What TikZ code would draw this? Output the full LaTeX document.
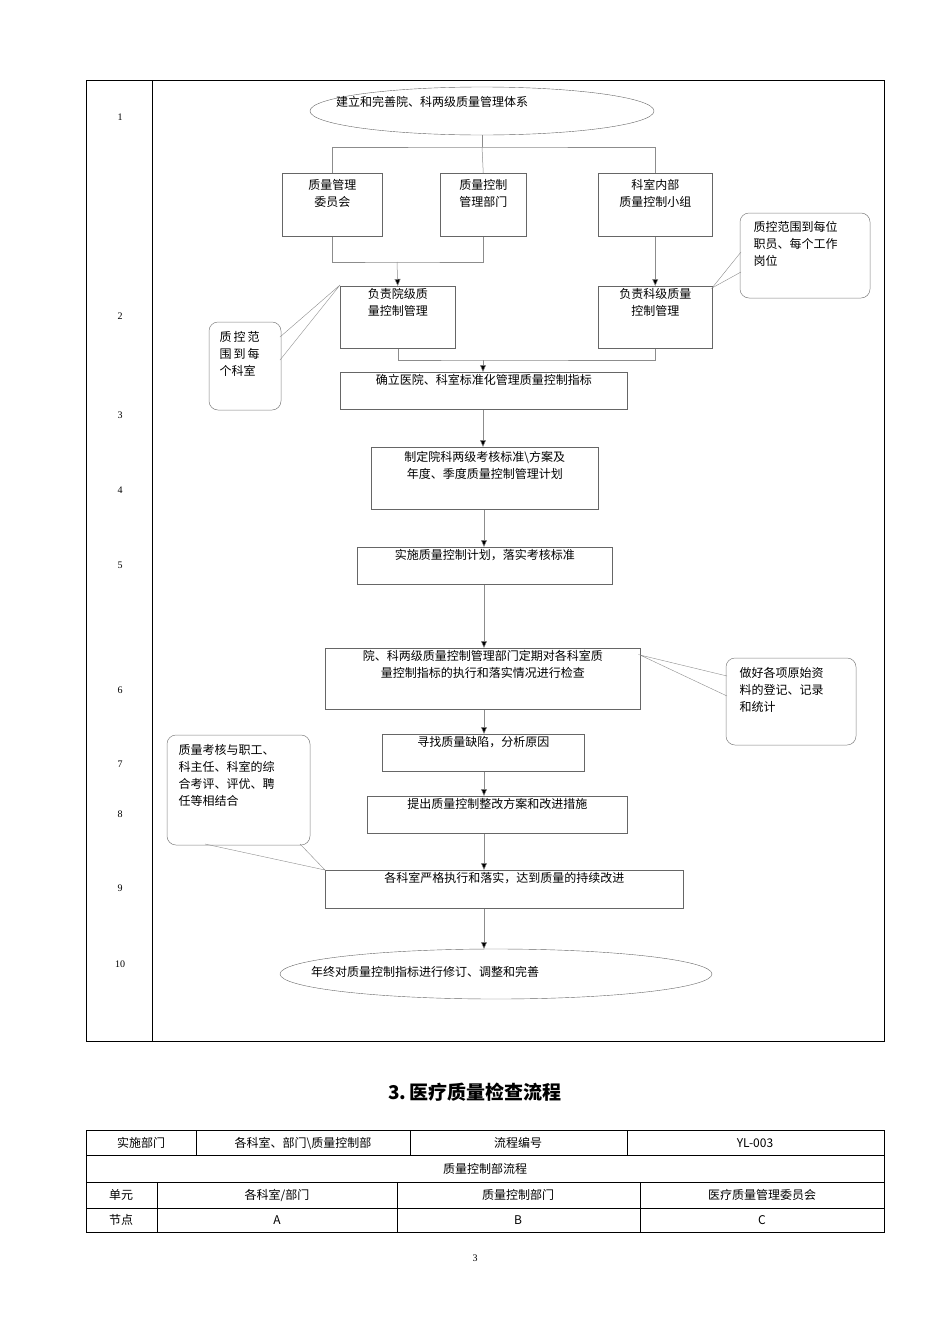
\documentclass[tikz,border=0pt]{standalone}
\usepackage{fontspec}
\setmainfont{Liberation Serif}
\newfontfamily\cjk{Noto Sans CJK SC}
\usetikzlibrary{arrows.meta}
\begin{document}
\begin{tikzpicture}[x=1pt,y=-1pt,
  every node/.style={font=\cjk\fontsize{12}{17}\selectfont, text=black},
  bx/.style={draw=black!60, line width=0.5pt, align=center, anchor=north west, inner sep=0pt},
  cn/.style={draw=black!45, line width=0.5pt},
  ar/.style={cn, -{Triangle[length=7pt,width=6pt,fill=black]}},
  co/.style={draw=black!50, rounded corners=9pt, line width=0.5pt},
  num/.style={font=\fontsize{10}{12}\selectfont}]
\useasboundingbox (0,0) rectangle (950,1344);
\draw[line width=0.6pt] (86,80) rectangle (884,1041);
\draw[line width=0.6pt] (152,80) -- (152,1041);
\foreach \n/\y in {1/117,2/316,3/415,4/490,5/565,6/690,7/764,8/814,9/888,10/964}
  \node[num] (r\n) at (120,\y) {\n};
% ellipse 1
\draw[black!60] (482,111) ellipse (172 and 24);
\node (e1) at (432,102) {建立和完善院、科两级质量管理体系};
\coordinate (e1b) at (482,135);
% boxes
\node[bx, minimum width=100pt, minimum height=63pt] (a) at (282,173) {质量管理\\委员会\\[6pt]};
\node[bx, minimum width=86pt, minimum height=63pt] (b) at (440,173) {质量控制\\管理部门\\[6pt]};
\node[bx, minimum width=114pt, minimum height=63pt] (c) at (598,173) {科室内部\\质量控制小组\\[6pt]};
\coordinate (j1) at (482,147);
\draw[cn] (e1b) -- (j1);
\draw[cn] (a.north) |- (j1) -| (c.north);
\draw[cn] (j1) -- (b.north);
\node[bx, minimum width=115pt, minimum height=62pt] (d) at (340,286) {负责院级质\\量控制管理\\[14pt]};
\node[bx, minimum width=114pt, minimum height=62pt] (e) at (598,286) {负责科级质量\\控制管理\\[14pt]};
\coordinate (j2) at (397,262);
\draw[cn] (a.south) |- (j2) -| (b.south);
\draw[ar] (j2) -- (d.north);
\draw[ar] (c.south) -- (e.north);
\node[bx, minimum width=287pt, minimum height=37pt] (f) at (340,372) {确立医院、科室标准化管理质量控制指标\\[6pt]};
\coordinate (j3) at (483,360);
\draw[cn] (d.south) |- (j3) -| (e.south);
\draw[ar] (j3) -- (j3 |- f.north);
\node[bx, minimum width=227pt, minimum height=62pt] (g) at (371,447) {制定院科两级考核标准\textbackslash 方案及\\年度、季度质量控制管理计划\\[10pt]};
\draw[ar] (j3 |- f.south) -- (j3 |- g.north);
\node[bx, minimum width=255pt, minimum height=37pt] (h) at (357,547) {实施质量控制计划，落实考核标准\\[6pt]};
\coordinate (x) at (484,0);
\draw[ar] (x |- g.south) -- (x |- h.north);
\node[bx, minimum width=315pt, minimum height=61pt] (i) at (325,648) {院、科两级质量控制管理部门定期对各科室质\\量控制指标的执行和落实情况进行检查\\[12pt]};
\draw[ar] (x |- h.south) -- (x |- i.north);
\node[bx, minimum width=202pt, minimum height=37pt] (j) at (382,734) {寻找质量缺陷，分析原因\\[6pt]};
\draw[ar] (x |- i.south) -- (x |- j.north);
\node[bx, minimum width=260pt, minimum height=37pt] (k) at (367,796) {提出质量控制整改方案和改进措施\\[6pt]};
\draw[ar] (x |- j.south) -- (x |- k.north);
\node[bx, minimum width=358pt, minimum height=38pt] (l) at (325,870) {各科室严格执行和落实，达到质量的持续改进\\[6pt]};
\draw[ar] (x |- k.south) -- (x |- l.north);
\draw[black!60] (496,974) ellipse (216 and 25);
\node (e2) at (425,972) {年终对质量控制指标进行修订、调整和完善};
\coordinate (e2t) at (484,949);
\draw[ar] (x |- l.south) -- (e2t);
% callouts
\draw[co] (740,213) rectangle (870,298);
\node[align=left, anchor=north west] (c1) at (750,218) {质控范围到每位\\职员、每个工作\\岗位};
\draw[black!45] (741,252) -- (712,288) -- (741,272);
\draw[co] (209,322) rectangle (281,410);
\node[align=left, anchor=north west] (c2) at (216,328) {质\,控\,范\\围\,到\,每\\个科室};
\draw[black!45] (280,337) -- (340,285) -- (280,360);
\draw[co] (726,658) rectangle (856,745);
\node[align=left, anchor=north west] (c3) at (736,664) {做好各项原始资\\料的登记、记录\\和统计};
\draw[black!45] (727,676) -- (640,655) -- (727,696);
\draw[co] (167,735) rectangle (310,845);
\node[align=left, anchor=north west] (c4) at (175,741) {质量考核与职工、\\科主任、科室的综\\合考评、评优、聘\\任等相结合};
\draw[black!45] (205,844) -- (325,870) -- (300,844);
% title
\node[font=\bfseries\cjk\fontsize{19}{22}\selectfont] (t) at (475,1092) {3.\,医疗质量检查流程};
% table
\draw[line width=0.6pt] (86,1130) rectangle (884,1232);
\foreach \y in {1155,1182,1208} \draw[line width=0.5pt] (86,\y) -- (884,\y);
\foreach \x in {196,410,627} \draw[line width=0.5pt] (\x,1130) -- (\x,1155);
\foreach \x in {157,397,640} \draw[line width=0.5pt] (\x,1182) -- (\x,1232);
\node (t1) at (141,1143) {实施部门};
\node (t2) at (303,1143) {各科室、部门\textbackslash 质量控制部};
\node (t3) at (518,1143) {流程编号};
\node (t4) at (755,1143) {YL-003};
\node (t5) at (485,1169) {质量控制部流程};
\node (t6) at (121,1195) {单元};
\node (t7) at (277,1195) {各科室/部门};
\node (t8) at (518,1195) {质量控制部门};
\node (t9) at (762,1195) {医疗质量管理委员会};
\node (t10) at (121,1220) {节点};
\node (t11) at (277,1220) {A};
\node (t12) at (518,1220) {B};
\node (t13) at (762,1220) {C};
\node[num] (pg) at (475,1258) {3};
\end{tikzpicture}
\end{document}
